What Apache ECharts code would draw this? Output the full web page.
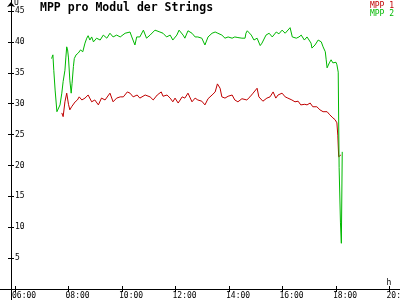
<!DOCTYPE html>
<html><head><meta charset="utf-8">
<script src="https://cdn.jsdelivr.net/npm/echarts@6/dist/echarts.min.js"></script>
<style>html,body{margin:0;padding:0;background:#fff}#c{width:400px;height:300px}</style>
</head><body><div id="c"></div>
<script>
// ---- data ----
const xTickHours = [6, 8, 10, 12, 14, 16, 18, 20];
const yTickValues = [5, 10, 15, 20, 25, 30, 35, 40, 45];
const seriesNames = ['MPP 1', 'MPP 2'];

const mpp1Times = ["07:45","07:48","07:52","07:56","08:00","08:03","08:07","08:11","08:15","08:20","08:24","08:30","08:37","08:44","08:52","08:59","09:07","09:14","09:22","09:33","09:40","09:48","09:56","10:03","10:12","10:18","10:25","10:34","10:40","10:52","11:03","11:10","11:19","11:28","11:32","11:41","11:48","11:54","11:59","12:06","12:15","12:21","12:28","12:37","12:44","12:50","12:59","13:06","13:13","13:22","13:29","13:34","13:40","13:44","13:51","13:58","14:07","14:13","14:20","14:29","14:40","14:47","14:54","15:03","15:07","15:16","15:25","15:32","15:39","15:45","15:50","15:59","16:06","16:12","16:21","16:28","16:35","16:41","16:50","16:55","17:02","17:08","17:17","17:24","17:31","17:40","17:46","17:53","17:58","18:02","18:04","18:06","18:09","18:11"];
const mpp1Values = [28.5,27.9,30.3,31.7,29.9,29.0,29.5,29.6,30.3,30.6,31.1,30.6,30.9,31.4,30.3,30.6,29.8,30.9,30.6,31.7,30.3,30.9,31.1,31.1,31.9,31.7,31.1,31.4,30.9,31.4,31.1,30.6,31.4,31.9,31.2,31.4,30.9,30.3,30.9,30.1,31.1,30.9,31.7,30.3,30.9,30.6,30.4,29.8,30.8,31.4,31.9,33.2,32.5,31.1,30.9,31.2,31.4,30.6,30.3,30.8,30.6,31.1,31.7,32.5,31.1,30.4,30.9,31.1,31.9,30.9,31.4,31.7,31.1,30.9,30.6,30.3,30.4,29.8,29.9,29.8,30.1,29.5,29.5,29.0,28.7,28.7,28.2,27.7,27.4,26.9,24.9,21.4,21.4,21.7];

const mpp2Times = ["07:22","07:25","07:27","07:30","07:34","07:37","07:41","07:45","07:48","07:52","07:54","07:56","07:58","08:00","08:03","08:06","08:08","08:11","08:13","08:17","08:22","08:27","08:32","08:37","08:41","08:44","08:48","08:52","08:56","09:03","09:11","09:18","09:26","09:33","09:40","09:48","09:56","10:07","10:11","10:18","10:22","10:29","10:33","10:40","10:48","10:55","11:03","11:14","11:25","11:32","11:40","11:48","11:54","12:03","12:08","12:17","12:21","12:28","12:37","12:44","12:50","12:59","13:06","13:13","13:22","13:29","13:35","13:44","13:51","13:58","14:07","14:13","14:20","14:29","14:36","14:38","14:41","14:50","14:56","15:03","15:10","15:14","15:23","15:30","15:37","15:46","15:52","15:59","16:06","16:10","16:17","16:22","16:31","16:37","16:42","16:49","16:55","17:04","17:06","17:13","17:20","17:27","17:31","17:36","17:38","17:40","17:45","17:49","17:53","18:00","18:02","18:05","18:07","18:10","18:12","18:14"];
const mpp2Values = [37.3,37.9,35.4,32.2,28.7,29.0,29.8,31.7,33.6,35.4,37.4,39.2,38.7,37.4,33.8,31.7,33.3,36.0,37.3,37.9,38.2,38.7,38.4,39.8,40.6,41.0,40.3,40.8,40.0,40.6,40.3,41.1,40.6,41.4,40.8,41.1,40.8,41.4,41.1,41.6,40.8,39.5,40.8,40.8,41.9,40.6,41.1,41.9,41.6,41.4,40.8,41.1,40.3,41.1,41.9,41.1,40.6,41.8,41.4,40.8,40.8,40.6,39.5,40.8,41.4,41.6,41.4,41.1,40.6,40.8,40.6,40.8,40.7,40.6,40.6,41.4,41.8,41.1,40.3,40.6,39.4,39.8,41.1,41.4,40.8,41.6,41.3,41.9,41.4,41.6,42.3,40.8,40.6,40.8,41.1,40.3,40.8,39.8,39.0,39.5,40.3,40.0,39.2,38.4,37.1,35.8,36.6,37.1,36.6,36.7,36.3,35.1,19.7,10.7,7.4,22.2];

// ---- helpers ----
function toH(s) { const p = s.split(':').map(Number); return p[0] + p[1] / 60; }
function pairs(ts, vs) { return ts.map((t, i) => [toH(t), vs[i]]); }
function pad2(n) { return (n < 10 ? '0' : '') + n; }

const FONT = '"DejaVu Sans Mono", "Liberation Mono", monospace';
const RED = '#c00000', GREEN = '#00b800';
const X_MIN = 5.4393, X_MAX = 20.3925, Y_MIN = 0, Y_MAX = 46.78;
const LABEL_SHIFT = 0.112;

const chart = echarts.init(document.getElementById('c'), null, { renderer: 'canvas' });

const lineBlack = { color: '#000', width: 1 };
const baseX = {
  type: 'value', min: X_MIN, max: X_MAX, position: 'bottom', gridIndex: 0,
  splitLine: { show: false },
  axisLine: { onZero: false, lineStyle: lineBlack }
};
const baseY = {
  type: 'value', min: Y_MIN, max: Y_MAX, position: 'left', offset: -11, gridIndex: 0,
  splitLine: { show: false },
  axisLine: { onZero: false, lineStyle: lineBlack }
};

chart.setOption({
  animation: false,
  backgroundColor: '#fff',
  title: {
    text: 'MPP pro Modul der Strings', left: 40, top: 2, padding: 0,
    textStyle: { fontFamily: FONT, fontSize: 11.5, fontWeight: 'bold', color: '#000' }
  },
  legend: {
    orient: 'vertical', right: 6, top: 2, padding: 0, itemGap: 0,
    itemWidth: 0, itemHeight: 7, selectedMode: false, icon: 'none',
    textStyle: { fontFamily: FONT, fontSize: 8, lineHeight: 7, padding: 0 },
    data: [
      { name: seriesNames[0], textStyle: { color: RED } },
      { name: seriesNames[1], textStyle: { color: GREEN } }
    ]
  },
  grid: [
    { left: 0, right: 0, top: 0, bottom: 11, containLabel: false, outerBoundsMode: 'none' },
    { left: 0, right: 0, top: 289, bottom: 0, containLabel: false, outerBoundsMode: 'none' }
  ],
  xAxis: [
    Object.assign({}, baseX, {
      name: 'h', nameLocation: 'end', nameGap: -11,
      nameTextStyle: { fontFamily: FONT, fontSize: 8, color: '#000', align: 'center', verticalAlign: 'bottom', padding: [0, 0, 2, 0] },
      axisTick: { show: true, inside: false, length: 3, customValues: xTickHours, lineStyle: lineBlack },
      axisLabel: {
        show: true, margin: 3, align: 'left', color: '#000', fontFamily: FONT, fontSize: 8,
        customValues: xTickHours.map(h => h - LABEL_SHIFT),
        formatter: v => pad2(Math.round(v)) + ':00'
      }
    }),
    Object.assign({}, baseX, {
      axisLine: { show: false, onZero: false },
      axisTick: { show: true, inside: true, length: 3, customValues: xTickHours, lineStyle: lineBlack },
      axisLabel: { show: false }
    }),
    { type: 'value', gridIndex: 1, min: X_MIN, max: X_MAX, show: false }
  ],
  yAxis: [
    Object.assign({}, baseY, {
      name: 'U', nameLocation: 'end', nameGap: -1,
      nameTextStyle: { fontFamily: FONT, fontSize: 8, color: '#000', align: 'left', verticalAlign: 'top', padding: [0, 0, 0, 3] },
      axisLine: { onZero: false, symbol: ['none', 'arrow'], symbolSize: [6, 5], symbolOffset: [0, -2], lineStyle: lineBlack },
      axisTick: { show: true, inside: false, length: 3, customValues: yTickValues, lineStyle: lineBlack },
      axisLabel: {
        show: true, inside: true, margin: 4, color: '#000', fontFamily: FONT, fontSize: 8,
        customValues: yTickValues, verticalAlign: 'middle'
      }
    }),
    Object.assign({}, baseY, {
      axisLine: { show: false, onZero: false },
      axisTick: { show: true, inside: true, length: 3, customValues: yTickValues, lineStyle: lineBlack },
      axisLabel: { show: false }
    }),
    {
      type: 'value', gridIndex: 1, min: 0, max: 1, position: 'left', offset: -11,
      splitLine: { show: false }, axisTick: { show: false }, axisLabel: { show: false },
      axisLine: { show: true, onZero: false, lineStyle: lineBlack }
    }
  ],
  series: [
    {
      name: seriesNames[0], type: 'line', xAxisIndex: 0, yAxisIndex: 0,
      data: pairs(mpp1Times, mpp1Values), showSymbol: false, symbol: 'none',
      lineStyle: { color: RED, width: 1 }, itemStyle: { color: RED }, z: 2
    },
    {
      name: seriesNames[1], type: 'line', xAxisIndex: 0, yAxisIndex: 0,
      data: pairs(mpp2Times, mpp2Values), showSymbol: false, symbol: 'none',
      lineStyle: { color: GREEN, width: 1 }, itemStyle: { color: GREEN }, z: 3
    }
  ]
});
</script></body></html>
